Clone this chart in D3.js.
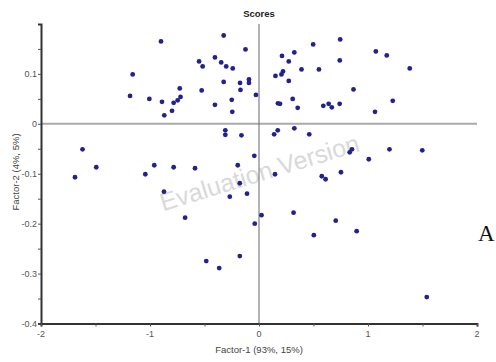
<!DOCTYPE html>
<html>
<head>
<meta charset="utf-8">
<script src="https://cdn.jsdelivr.net/npm/d3@7"></script>
<style>
  body { margin: 0; background: #fff; }
  svg { display: block; }
  text { font-family: "Liberation Sans", Arial, sans-serif; }
</style>
</head>
<body>
<svg width="496" height="362"></svg>
<script>
// scores: factor-1 (x) and factor-2 (y)
const factor1 = [
  -1.183, -1.159, -0.899, -1.006, -0.890, -0.869, -0.798, -0.783, -0.746, -0.727,
  -0.720, -0.550, -0.517, -0.526, -0.404, -0.404, -0.347, -0.324, -0.301, -0.324,
  -0.241, -0.250, -0.245, -0.174, -0.170, -0.124, -0.092, -0.092, -0.028, 0.151,
  0.211, 0.273, 0.324, 0.206, 0.220, 0.273, 0.390, 0.497, 0.550, 0.745,
  0.741, 1.072, 1.172, 1.383, 0.867, 1.227, 1.064, 0.174, 0.193, 0.309,
  0.355, 0.590, 0.639, 0.668, 0.740, -0.309, -0.309, -0.161, -1.619, -1.493,
  -1.688, -1.043, -0.961, -0.783, -0.872, -0.678, -0.587, -0.195, -0.176, -0.268,
  -0.110, -0.484, -0.365, -0.176, -0.043, -0.039, 0.139, 0.172, 0.324, 0.461,
  0.147, 0.576, 0.611, 0.752, 0.832, 0.853, 1.007, 1.197, 1.498, 0.023,
  0.317, 0.503, 0.704, 0.896, 1.539
];
const factor2 = [
  0.056, 0.099, 0.165, 0.050, 0.044, 0.017, 0.026, 0.042, 0.047, 0.071,
  0.054, 0.125, 0.115, 0.067, 0.133, 0.038, 0.123, 0.177, 0.115, 0.084,
  0.111, 0.048, 0.024, 0.082, 0.068, 0.149, 0.089, 0.082, 0.058, 0.096,
  0.136, 0.125, 0.143, 0.099, 0.105, 0.086, 0.109, 0.159, 0.109, 0.169,
  0.127, 0.145, 0.137, 0.111, 0.069, 0.046, 0.024, 0.041, 0.040, 0.050,
  0.032, 0.036, 0.040, 0.033, 0.040, -0.013, -0.022, -0.023, -0.051, -0.087,
  -0.107, -0.101, -0.083, -0.087, -0.136, -0.188, -0.089, -0.083, -0.119, -0.146,
  -0.140, -0.275, -0.289, -0.265, -0.064, -0.200, -0.021, -0.013, -0.009, -0.021,
  -0.101, -0.105, -0.111, -0.097, -0.057, -0.051, -0.071, -0.051, -0.053, -0.183,
  -0.178, -0.223, -0.194, -0.215, -0.347
];
const xTicks = [-2, -1, 0, 1, 2];
const yTicks = [0.1, 0, -0.1, -0.2, -0.3, -0.4];
const xMinor = [-2, -1.5, -1, -0.5, 0, 0.5, 1, 1.5, 2];
const yMinor = [0.15, 0.1, 0.05, 0, -0.05, -0.1, -0.15, -0.2, -0.25, -0.3, -0.35, -0.4];

const svg = d3.select("svg");

const x = d3.scaleLinear().domain([-2, 2]).range([41, 477]);
const y = d3.scaleLinear().domain([-0.4, 0.2]).range([323.5, 24]);

const points = factor1.map((v, i) => ({ f1: v, f2: factor2[i] }));

// watermark
svg.append("text")
  .attr("transform", "translate(262,181) rotate(-17)")
  .attr("text-anchor", "middle")
  .attr("font-size", 25)
  .attr("fill", "#d9d9d9")
  .text("Evaluation Version");

// zero lines
svg.append("line")
  .attr("x1", x(-2)).attr("x2", x(2))
  .attr("y1", y(0)).attr("y2", y(0))
  .attr("stroke", "#aaa").attr("stroke-width", 2);
svg.append("line")
  .attr("x1", x(0)).attr("x2", x(0))
  .attr("y1", y(0.2)).attr("y2", y(-0.4))
  .attr("stroke", "#666").attr("stroke-width", 1);

// axes
const yAxis = svg.append("g")
  .attr("transform", `translate(${x(-2)},0)`)
  .call(d3.axisLeft(y).tickValues(yMinor).tickSize(3).tickFormat(""));
const xAxis = svg.append("g")
  .attr("transform", `translate(0,${y(-0.4)})`)
  .call(d3.axisBottom(x).tickValues(xMinor).tickSize(3).tickFormat(""));
[yAxis, xAxis].forEach(g => {
  g.select(".domain").attr("stroke", "#333").attr("stroke-width", 2);
  g.selectAll(".tick line").attr("stroke", "#555");
});

svg.append("g").selectAll("text")
  .data(yTicks).enter().append("text")
  .attr("x", 37).attr("y", d => y(d) + 3.5)
  .attr("text-anchor", "end")
  .attr("font-size", 9).attr("fill", "#555")
  .text(d => d === 0 ? "0" : d3.format(".1f")(d).replace("−", "-"));

svg.append("g").selectAll("text")
  .data(xTicks).enter().append("text")
  .attr("x", d => x(d)).attr("y", 337)
  .attr("text-anchor", "middle")
  .attr("font-size", 9).attr("fill", "#555")
  .text(d => String(d));

// points
svg.append("g").selectAll("circle")
  .data(points).enter().append("circle")
  .attr("cx", d => x(d.f1))
  .attr("cy", d => y(d.f2))
  .attr("r", 2.4)
  .attr("fill", "#22228c");

// titles
svg.append("text")
  .attr("x", 259).attr("y", 17)
  .attr("text-anchor", "middle")
  .attr("font-size", 9.5).attr("font-weight", "bold").attr("fill", "#222")
  .text("Scores");
svg.append("text")
  .attr("x", 259).attr("y", 353)
  .attr("text-anchor", "middle")
  .attr("font-size", 9.5).attr("fill", "#444")
  .text("Factor-1 (93%, 15%)");
svg.append("text")
  .attr("transform", "translate(19,172) rotate(-90)")
  .attr("text-anchor", "middle")
  .attr("font-size", 9.5).attr("fill", "#444")
  .text("Factor-2 (4%, 5%)");

svg.append("text")
  .attr("x", 478).attr("y", 241)
  .style("font-family", "'Liberation Serif', 'Times New Roman', serif")
  .attr("font-size", 23).attr("fill", "#111")
  .text("A");
</script>
</body>
</html>
